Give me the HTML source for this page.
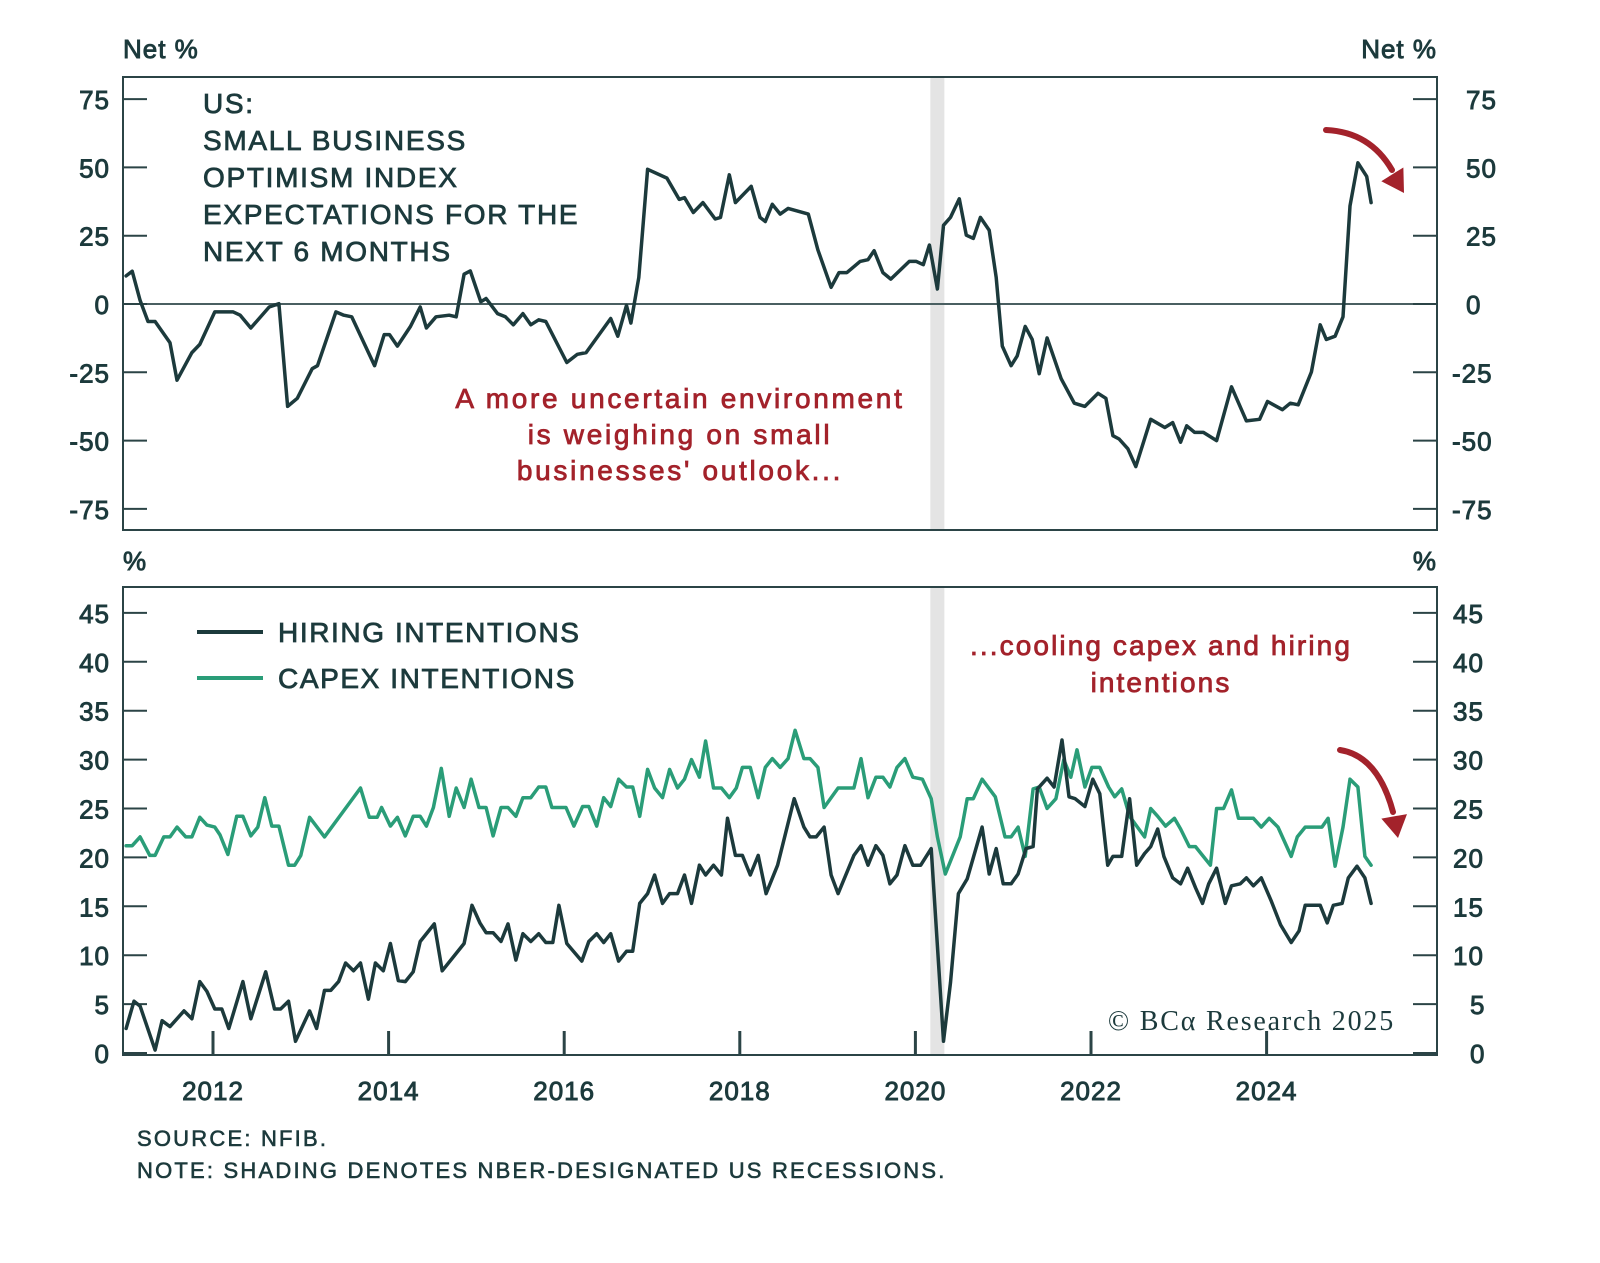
<!DOCTYPE html>
<html><head><meta charset="utf-8"><style>
html,body{margin:0;padding:0;background:#fff;}
svg{display:block;font-family:"Liberation Sans",sans-serif;}
</style></head><body>
<svg id="chart" width="1600" height="1263" viewBox="0 0 1600 1263"></svg>
<script>
// ---- Data ----
const optDates=[2011.01,2011.08,2011.17,2011.26,2011.34,2011.51,2011.59,2011.76,2011.85,2012.02,2012.23,2012.31,2012.43,2012.64,2012.75,2012.85,2012.96,2013.13,2013.19,2013.40,2013.49,2013.58,2013.84,2013.95,2014.01,2014.10,2014.25,2014.36,2014.43,2014.54,2014.69,2014.77,2014.86,2014.93,2015.05,2015.11,2015.24,2015.33,2015.42,2015.53,2015.62,2015.71,2015.79,2016.03,2016.15,2016.25,2016.53,2016.61,2016.71,2016.76,2016.85,2016.95,2017.17,2017.31,2017.37,2017.47,2017.58,2017.72,2017.78,2017.88,2017.95,2018.13,2018.23,2018.29,2018.37,2018.46,2018.55,2018.78,2018.89,2019.04,2019.13,2019.22,2019.37,2019.46,2019.53,2019.63,2019.72,2019.93,2020.01,2020.09,2020.16,2020.25,2020.32,2020.40,2020.50,2020.58,2020.66,2020.74,2020.84,2020.92,2020.99,2021.09,2021.16,2021.25,2021.33,2021.41,2021.50,2021.66,2021.81,2021.93,2022.08,2022.17,2022.25,2022.32,2022.42,2022.51,2022.68,2022.84,2022.93,2023.02,2023.09,2023.18,2023.28,2023.43,2023.60,2023.77,2023.92,2024.01,2024.18,2024.27,2024.36,2024.51,2024.61,2024.68,2024.78,2024.87,2024.95,2025.04,2025.14,2025.19];
const optValues=[10.3,12,1.3,-6.4,-6.4,-14.2,-27.9,-17.8,-14.8,-2.9,-2.9,-4.1,-8.8,-1.1,0.1,-37.5,-34.5,-23.7,-22.6,-2.9,-4.1,-4.7,-22.6,-11.2,-11.2,-15.4,-8.2,-1.1,-8.8,-4.7,-4.1,-4.7,10.9,12.1,0.8,2,-3.5,-4.7,-7.6,-3.5,-7.6,-5.8,-6.4,-21.4,-18.4,-17.8,-5.3,-11.8,-0.5,-7.0,9.7,49.3,46.1,38.3,38.9,33.5,37.1,31.1,31.7,47.3,37.1,43.1,31.7,30.2,36.5,32.9,35,32.9,19.8,6.1,11.5,11.5,15.6,16.2,19.5,11.5,9.1,15.6,15.6,14.4,21.6,5.5,28.8,31.7,38.5,25.2,24,31.7,27,9.7,-15.4,-22.6,-19,-8.2,-13,-25.5,-12.4,-27.3,-36.3,-37.5,-32.7,-34.5,-48.2,-49.4,-53,-59.5,-42.2,-45.2,-43.4,-50.6,-44.6,-47,-47,-50,-30.3,-42.8,-42.2,-35.7,-38.7,-36.3,-36.9,-24.9,-7.6,-13,-11.8,-4.7,35.9,51.7,46.7,37.1];

const capexDates=[2011.01,2011.08,2011.17,2011.28,2011.34,2011.44,2011.51,2011.59,2011.69,2011.76,2011.85,2011.93,2012.02,2012.08,2012.17,2012.27,2012.34,2012.43,2012.51,2012.59,2012.67,2012.75,2012.86,2012.93,2013.00,2013.10,2013.27,2013.68,2013.78,2013.87,2013.92,2014.02,2014.10,2014.19,2014.28,2014.36,2014.43,2014.51,2014.60,2014.69,2014.77,2014.86,2014.94,2015.03,2015.11,2015.19,2015.28,2015.36,2015.45,2015.53,2015.62,2015.71,2015.79,2015.86,2016.02,2016.11,2016.21,2016.28,2016.37,2016.45,2016.53,2016.62,2016.71,2016.78,2016.86,2016.95,2017.03,2017.12,2017.20,2017.29,2017.37,2017.45,2017.54,2017.61,2017.70,2017.79,2017.88,2017.96,2018.03,2018.12,2018.21,2018.29,2018.37,2018.46,2018.55,2018.63,2018.73,2018.80,2018.89,2018.96,2019.12,2019.30,2019.38,2019.46,2019.55,2019.63,2019.71,2019.79,2019.88,2019.97,2020.08,2020.18,2020.25,2020.34,2020.51,2020.59,2020.66,2020.76,2020.91,2021.02,2021.09,2021.17,2021.25,2021.34,2021.41,2021.50,2021.60,2021.69,2021.77,2021.84,2021.93,2022.01,2022.10,2022.20,2022.27,2022.35,2022.44,2022.52,2022.61,2022.68,2022.76,2022.85,2022.95,2023.02,2023.12,2023.19,2023.27,2023.36,2023.43,2023.51,2023.60,2023.68,2023.85,2023.94,2024.03,2024.13,2024.28,2024.35,2024.44,2024.63,2024.70,2024.78,2024.87,2024.95,2025.04,2025.12,2025.19];
const capexValues=[21.2,21.2,22.1,20.2,20.2,22.1,22.1,23.1,22.1,22.1,24.1,23.3,23.1,22.3,20.3,24.2,24.2,22.2,23.1,26.1,23.2,23.2,19.2,19.2,20.2,24.1,22.1,27.1,24.1,24.1,25.1,23.2,24.1,22.2,24.2,24.2,23.2,25.1,29.1,24.2,27.1,25.1,28.0,25.1,25.1,22.2,25.1,25.1,24.2,26.1,26.1,27.2,27.2,25.1,25.1,23.2,25.2,25.2,23.2,26.1,25.2,28.0,27.2,27.2,24.2,29.0,27.1,26.1,29.0,27.1,28.0,30.0,28.2,31.9,27.1,27.1,26.1,27.1,29.2,29.2,26.1,29.2,30.1,29.2,30.1,33.0,30.1,30.1,29.2,25.1,27.1,27.1,30.1,26.1,28.2,28.2,27.2,29.2,30.1,28.2,28.0,26.0,22.1,18.3,22.1,26.0,26.0,28.0,26.2,22.1,22.1,23.1,20.1,27.0,27.2,25.0,26.0,30.0,28.2,31.0,27.2,29.2,29.2,27.2,26.2,27.0,24.2,23.2,22.1,25.0,24.2,23.2,24.0,22.9,21.1,21.1,20.2,19.2,25.0,25.0,26.9,24.0,24.0,23.1,24.0,23.1,20.1,22.1,23.1,23.1,24.0,19.1,23.1,28.0,27.2,20.1,19.2];

const hireDates=[2011.01,2011.10,2011.17,2011.34,2011.42,2011.51,2011.67,2011.76,2011.85,2011.93,2012.02,2012.10,2012.18,2012.34,2012.43,2012.60,2012.70,2012.77,2012.86,2012.94,2013.10,2013.18,2013.27,2013.34,2013.43,2013.51,2013.60,2013.68,2013.77,2013.85,2013.94,2014.02,2014.11,2014.19,2014.28,2014.36,2014.52,2014.61,2014.86,2014.95,2015.04,2015.11,2015.19,2015.28,2015.36,2015.45,2015.53,2015.62,2015.71,2015.79,2015.87,2015.94,2016.03,2016.20,2016.28,2016.37,2016.45,2016.53,2016.62,2016.71,2016.78,2016.86,2016.95,2017.03,2017.12,2017.20,2017.29,2017.37,2017.45,2017.54,2017.61,2017.70,2017.79,2017.86,2017.95,2018.03,2018.12,2018.21,2018.30,2018.43,2018.62,2018.73,2018.80,2018.87,2018.96,2019.04,2019.12,2019.30,2019.38,2019.46,2019.55,2019.63,2019.71,2019.79,2019.88,2019.97,2020.06,2020.18,2020.32,2020.40,2020.49,2020.59,2020.76,2020.84,2020.92,2021.00,2021.09,2021.17,2021.26,2021.34,2021.39,2021.50,2021.58,2021.67,2021.75,2021.82,2021.93,2022.02,2022.10,2022.19,2022.25,2022.35,2022.44,2022.52,2022.61,2022.68,2022.76,2022.83,2022.93,2023.02,2023.10,2023.19,2023.27,2023.34,2023.43,2023.53,2023.60,2023.70,2023.77,2023.85,2023.94,2024.05,2024.16,2024.28,2024.37,2024.44,2024.61,2024.69,2024.76,2024.86,2024.93,2025.03,2025.12,2025.19];
const hireValues=[2.5,5.3,4.8,0.3,3.3,2.7,4.3,3.5,7.3,6.3,4.5,4.5,2.5,7.3,3.5,8.3,4.5,4.5,5.3,1.2,4.3,2.5,6.4,6.4,7.3,9.2,8.4,9.2,5.5,9.2,8.4,11.2,7.4,7.3,8.3,11.4,13.2,8.4,11.2,15.1,13.3,12.3,12.3,11.4,13.2,9.5,12.2,11.4,12.2,11.3,11.3,15.1,11.2,9.4,11.4,12.2,11.3,12.2,9.4,10.4,10.4,15.3,16.3,18.2,15.3,16.3,16.3,18.2,15.3,19.2,18.2,19.2,18.2,24.0,20.2,20.2,18.2,20.2,16.3,19.2,26.0,23.1,22.1,22.1,23.1,18.2,16.3,20.2,21.2,19.2,21.2,20.2,17.3,18.2,21.2,19.2,19.2,20.9,1.2,7.2,16.3,17.8,23.1,18.3,20.9,17.3,17.3,18.3,20.9,21.1,27.0,28.1,27.2,32.0,26.2,26.0,25.2,28.0,26.5,19.2,20.1,20.1,26.0,19.2,20.4,21.1,22.9,20.1,17.9,17.3,18.9,16.9,15.3,17.3,18.9,15.3,17.1,17.3,17.9,17.1,17.9,15.6,13.1,11.3,12.5,15.1,15.1,13.3,15.1,15.3,17.9,19.1,17.9,15.3];

const topTicks=[75,50,25,0,-25,-50,-75];
const botTicks=[45,40,35,30,25,20,15,10,5,0];
const yearTicks=[2012,2014,2016,2018,2020,2022,2024];
const recession=[2020.17,2020.33];

// ---- Scales ----
const L=123,R=1437;
const x=yr=>213+(yr-2012)*87.8;
const yTop=v=>304-v*2.732;
const yBot=v=>1053-v*9.78;

const svg=document.getElementById('chart');
const NS='http://www.w3.org/2000/svg';
function mk(tag,attrs,parent){const e=document.createElementNS(NS,tag);for(const k in attrs)e.setAttribute(k,attrs[k]);(parent||svg).appendChild(e);return e;}
function txt(s,attrs,parent){const e=mk('text',attrs,parent);e.textContent=s;return e;}
const DARK='#1c3a3c',GREEN='#2a9d78',RED='#a3222b',AX='#2b4446';

for(const [top,bot] of [[77,530],[587,1055]]){
  const r=mk('rect',{x:x(recession[0]),y:top,width:x(recession[1])-x(recession[0]),height:bot-top,fill:'#e4e4e4'});
  
  
}

const f1=mk('rect',{x:L,y:77,width:R-L,height:453,fill:'none',stroke:AX,'stroke-width':2});


const f2=mk('rect',{x:L,y:587,width:R-L,height:468,fill:'none',stroke:AX,'stroke-width':2});



const z=mk('line',{x1:L,x2:R,y1:yTop(0),y2:yTop(0),stroke:'#4a5f61','stroke-width':2});



const tickStyle={fill:DARK,'font-size':26,stroke:DARK,'stroke-width':0.9,'letter-spacing':1};
topTicks.forEach(v=>{
  const yy=yTop(v);
  mk('line',{x1:L,x2:L+24,y1:yy,y2:yy,stroke:AX,'stroke-width':2});
  mk('line',{x1:R-24,x2:R,y1:yy,y2:yy,stroke:AX,'stroke-width':2});
  const a=txt(String(v),Object.assign({x:110,y:yy+10,'text-anchor':'end'},tickStyle));
  
  
  const b=txt(String(v),Object.assign({x:v<0?1452:1466,y:yy+10},tickStyle));
  
  
});
botTicks.forEach(v=>{
  const yy=yBot(v);
  mk('line',{x1:L,x2:L+24,y1:yy,y2:yy,stroke:AX,'stroke-width':2});
  mk('line',{x1:R-24,x2:R,y1:yy,y2:yy,stroke:AX,'stroke-width':2});
  const a=txt(String(v),Object.assign({x:110,y:yy+10,'text-anchor':'end'},tickStyle));
  
  
  const b=txt(String(v),Object.assign({x:v<10?1470:1453,y:yy+10},tickStyle));
  
  
});
yearTicks.forEach(yr=>{
  const xx=x(yr);
  mk('line',{x1:xx,x2:xx,y1:1031,y2:1055,stroke:AX,'stroke-width':3});
  const t=txt(String(yr),Object.assign({x:xx,y:1100,'text-anchor':'middle'},tickStyle));
  
  
});

function line(dates,vals,ys,color,name){
  const d=dates.map((t,i)=>(i?'L':'M')+x(t).toFixed(1)+' '+ys(vals[i]).toFixed(1)).join(' ');
  const p=mk('path',{d:d,fill:'none',stroke:color,'stroke-width':3.5,'stroke-linejoin':'round','stroke-linecap':'round'});
  
  
}
line(optDates,optValues,yTop,DARK,'optimism-expectations-line');
line(capexDates,capexValues,yBot,GREEN,'capex-intentions-line');
line(hireDates,hireValues,yBot,DARK,'hiring-intentions-line');

const u=[['Net %',123,58,'start','top-left-unit'],['Net %',1437,58,'end','top-right-unit'],['%',123,570,'start','bottom-left-unit'],['%',1437,570,'end','bottom-right-unit']];
u.forEach(([s,xx,yy,an,n])=>{const t=txt(s,Object.assign({x:xx,y:yy,'text-anchor':an},tickStyle));});

['US:','SMALL BUSINESS','OPTIMISM INDEX','EXPECTATIONS FOR THE','NEXT 6 MONTHS'].forEach((s,i)=>{
  const t=txt(s,{x:203,y:113+i*37,fill:DARK,'font-size':28,stroke:DARK,'stroke-width':0.8,'letter-spacing':1.7});
  
  
});

['A more uncertain environment','is weighing on small',"businesses' outlook..."].forEach((s,i)=>{
  const t=txt(s,{x:680,y:408+i*36,fill:RED,'font-size':28,'text-anchor':'middle',stroke:RED,'stroke-width':0.8,'letter-spacing':2.7});
  
  
});
['...cooling capex and hiring','intentions'].forEach((s,i)=>{
  const t=txt(s,{x:1161,y:655+i*37,fill:RED,'font-size':28,'text-anchor':'middle',stroke:RED,'stroke-width':0.8,'letter-spacing':2.1});
  
  
});

[['HIRING INTENTIONS',DARK,632,'legend-hiring'],['CAPEX INTENTIONS',GREEN,678,'legend-capex']].forEach(([s,c,yy,n])=>{
  const g=mk('g',{});
  
  
  mk('line',{x1:197,x2:263,y1:yy,y2:yy,stroke:c,'stroke-width':4},g);
  txt(s,{x:278,y:yy+10,fill:DARK,'font-size':28,stroke:DARK,'stroke-width':0.8,'letter-spacing':1.6},g);
});

function arrow(d,hx,hy,ang,name){
  const g=mk('g',{});
  
  
  mk('path',{d:d,fill:'none',stroke:RED,'stroke-width':6,'stroke-linecap':'round'},g);
  mk('polygon',{points:'0,0 -22,-13 -22,13',fill:RED,transform:`translate(${hx},${hy}) rotate(${ang})`},g);
}
arrow('M1326 130 Q1370 132 1392 170',1404,193,58,'top-red-arrow');
arrow('M1340 750 Q1378 756 1393 812',1398,838,80,'bottom-red-arrow');

const c=txt('© BCα Research 2025',{x:1395,y:1030,'text-anchor':'end',fill:DARK,'font-size':28,'letter-spacing':1.8,'font-family':'"Liberation Serif",serif'});



['SOURCE: NFIB.','NOTE: SHADING DENOTES NBER-DESIGNATED US RECESSIONS.'].forEach((s,i)=>{
  const t=txt(s,{x:137,y:1146+i*32,fill:DARK,'font-size':22,stroke:DARK,'stroke-width':0.6,'letter-spacing':2.2});
  
  
});
</script>
</body></html>
